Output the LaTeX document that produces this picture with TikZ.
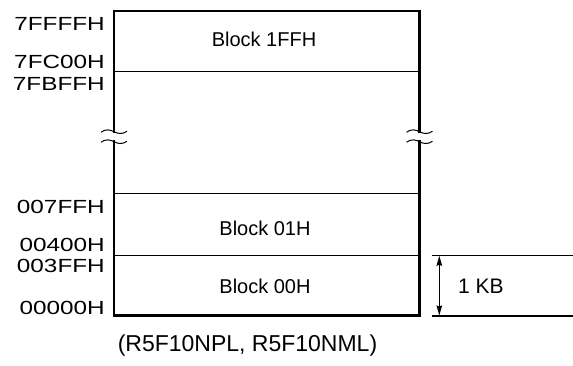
\documentclass[tikz,border=0pt]{standalone}
\usepackage{fontspec}
\setmainfont{Liberation Sans}
\newfontfamily\lblfont[FakeStretch=1.28]{Liberation Sans}
\usetikzlibrary{arrows.meta}
\begin{document}
\begin{tikzpicture}[x=1pt,y=-1pt,
  addr/.style={anchor=base east,inner sep=0pt,font=\lblfont\fontsize{19}{19}\selectfont},
  blk/.style={anchor=base,inner sep=0pt,font=\fontsize{20}{20}\selectfont},
  outer/.style={line width=2.5pt,line cap=rect},
  inner/.style={line width=1.1pt},
  brk/.style={line width=1pt},
  dim/.style={line width=1.1pt}]
\useasboundingbox (0,0) rectangle (573,365);
% coordinates
\coordinate (TL) at (114,11);
\coordinate (TR) at (419.5,11);
\coordinate (BL) at (114,315.3);
\coordinate (BR) at (419.5,315.3);
\coordinate (L1) at (114,131.7);
\coordinate (R1) at (419.5,131.7);
\coordinate (L2) at (114,141.7);
\coordinate (R2) at (419.5,141.7);
% outer box with break
\draw[outer] (L1) -- (TL) -- (TR) -- (R1);
\draw[outer] (L2) -- (BL) -- (BR) -- (R2);
% inner lines
\draw[inner] (114,71.7) -- (419.5,71.7);
\draw[inner] (114,193.3) -- (419.5,193.3);
\draw[inner] (114,255.3) -- (419.5,255.3);
% break marks
\foreach \p in {L1,L2,R1,R2}{
  \draw[brk] ([shift={(-13,0.5)}]\p) .. controls ([shift={(-8,-3)}]\p) and ([shift={(-4,-2)}]\p) .. (\p)
     .. controls ([shift={(4,2)}]\p) and ([shift={(8,3)}]\p) .. ([shift={(13,-0.5)}]\p);
}
% address labels
\node[addr] (a1) at (105,30) {7FFFFH};
\node[addr] (a2) at (105,68.3) {7FC00H};
\node[addr] (a3) at (105,90.7) {7FBFFH};
\node[addr] (a4) at (105,213.3) {007FFH};
\node[addr] (a5) at (105,251) {00400H};
\node[addr] (a6) at (105,272.3) {003FFH};
\node[addr] (a7) at (105,314) {00000H};
% block labels
\node[blk] (b1) at (264,46.7) {Block 1FFH};
\node[blk] (b2) at (265,235) {Block 01H};
\node[blk] (b3) at (265,293.3) {Block 00H};
% dimension
\coordinate (d1s) at (431.7,255.3);
\coordinate (d1e) at (573,255.3);
\coordinate (d2s) at (431.7,316);
\coordinate (d2e) at (573,316);
\coordinate (ar1) at (439.3,255.8);
\coordinate (ar2) at (439.3,315.5);
\draw[dim] (d1s) -- (d1e);
\draw[dim] (d2s) -- (d2e);
\draw[dim,{Stealth[length=10pt,width=5.5pt,inset=1pt]}-{Stealth[length=10pt,width=5.5pt,inset=1pt]}] (ar1) -- (ar2);
\node[anchor=base west,inner sep=0pt,font=\fontsize{21}{21}\selectfont] (kb) at (458,293.3) {1 KB};
% caption
\node[anchor=base,inner sep=0pt,font=\fontsize{23}{23}\selectfont] (cap) at (247.5,351) {(R5F10NPL, R5F10NML)};
\end{tikzpicture}
\end{document}
